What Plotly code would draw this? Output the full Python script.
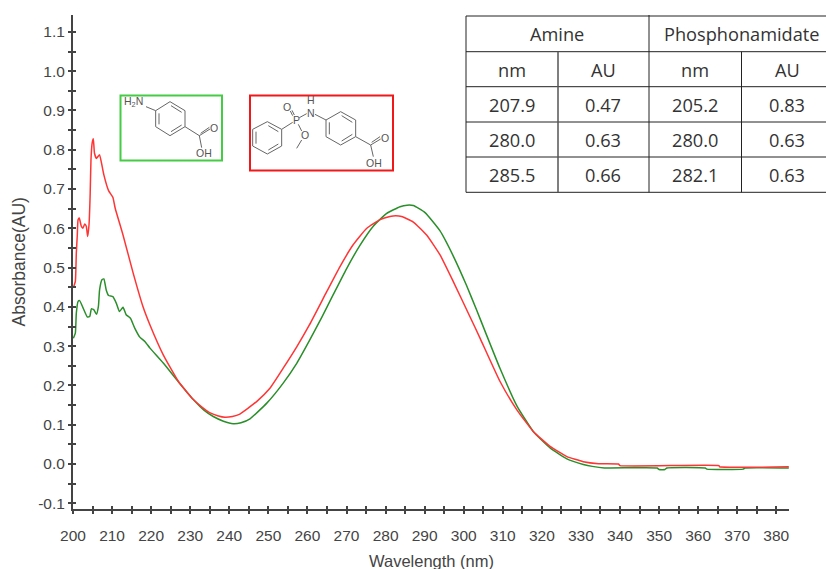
import plotly.graph_objects as go

# ---------- data ----------
wavelength_phosphonamidate = [
    200.1, 200.6, 200.85, 201.1, 201.3, 201.6, 202.1, 202.5, 203.0, 203.4, 203.75, 204.1, 204.4,
    204.6, 204.9, 205.2, 205.5, 206.0, 206.4, 206.8, 207.3, 207.9, 209.1, 210.2, 210.8, 212.8,
    215.4, 217.9, 219.7, 223.1, 227.0, 230.8, 233.0, 235.1, 237.0, 238.9, 240.8, 242.7, 247.0,
    250.4, 253.8, 257.3, 260.5, 264.9, 268.3, 271.7, 275.2, 278.6, 281.1, 282.6, 284.1,
    287.1, 290.5, 293.9, 297.3, 301.6, 304.2, 309.3, 313.6, 317.8, 322.1, 326.4, 330.6,
    334.5, 339.6, 340.0, 365.3, 365.5, 383.2]
absorbance_phosphonamidate = [
    0.449, 0.465, 0.537, 0.583, 0.622, 0.626, 0.606, 0.600, 0.611, 0.605, 0.579, 0.609, 0.689,
    0.774, 0.817, 0.828, 0.791, 0.778, 0.783, 0.787, 0.766, 0.736, 0.696, 0.679, 0.651, 0.583,
    0.486, 0.401, 0.354, 0.278, 0.210, 0.164, 0.145, 0.130, 0.123, 0.119, 0.121, 0.127, 0.159,
    0.193, 0.244, 0.299, 0.354, 0.438, 0.502, 0.558, 0.600, 0.622, 0.630, 0.632, 0.630,
    0.616, 0.583, 0.533, 0.465, 0.375, 0.320, 0.210, 0.138, 0.083, 0.045, 0.019, 0.006,
    0.001, 0.000, -0.004, -0.004, -0.007, -0.007]

wavelength_amine = [
    200.1, 200.6, 200.85, 201.3, 201.7, 202.6, 203.7, 204.3, 204.7, 205.3, 206.0, 206.5, 206.8,
    207.4, 207.9, 208.5, 209.1, 210.2, 211.1, 211.9, 212.8, 213.6, 214.7, 215.8, 217.1, 218.4,
    219.7, 223.1, 227.0, 230.8, 233.5, 235.9, 238.5, 241.0, 243.0, 245.3, 249.6, 253.8, 257.3,
    260.5, 263.7, 266.6, 270.0, 273.4, 276.9, 280.3, 283.7, 285.5, 287.1, 290.1, 293.9, 297.3,
    300.7, 303.3, 305.7, 309.3, 313.6, 317.8, 322.1, 326.4, 330.6, 332.9, 336.0, 349.5, 350.0,
    351.5, 352.0, 361.8, 362.2, 371.5, 372.0, 383.2]
absorbance_amine = [
    0.320, 0.333, 0.384, 0.414, 0.416, 0.397, 0.374, 0.376, 0.395, 0.393, 0.381, 0.401, 0.443,
    0.469, 0.471, 0.443, 0.429, 0.426, 0.409, 0.388, 0.399, 0.380, 0.371, 0.346, 0.323, 0.312,
    0.295, 0.257, 0.209, 0.164, 0.137, 0.121, 0.109, 0.1025, 0.105, 0.115, 0.155, 0.206, 0.257,
    0.314, 0.374, 0.431, 0.497, 0.556, 0.606, 0.638, 0.655, 0.659, 0.658, 0.640, 0.594, 0.530,
    0.455, 0.392, 0.332, 0.243, 0.148, 0.083, 0.041, 0.013, -0.001, -0.006, -0.010, -0.010,
    -0.014, -0.014, -0.010, -0.010, -0.013, -0.013, -0.010, -0.010]

y_tick_values = [-0.1, 0.0, 0.1, 0.2, 0.3, 0.4, 0.5, 0.6, 0.7, 0.8, 0.9, 1.0, 1.1]
y_tick_labels = ["-0.1", "0.0", "0.1", "0.2", "0.3", "0.4", "0.5", "0.6", "0.7", "0.8", "0.9", "1.0", "1.1"]

table_groups = ["Amine", "Phosphonamidate"]
table_subheads = ["nm", "AU", "nm", "AU"]
table_rows = [
    ["207.9", "0.47", "205.2", "0.83"],
    ["280.0", "0.63", "280.0", "0.63"],
    ["285.5", "0.66", "282.1", "0.63"],
]

# ---------- layout constants ----------
W, H = 826, 569
L, R, T, B = 73, 789, 15, 509
X_RANGE = [200, 383.25]
Y_RANGE = [-0.1145, 1.143]
AXIS = "#444444"
TEXT = "#444444"
RED = "#ff3535"
GREEN = "#2a8f2a"


def px(x):
    return (x - L) / (R - L)


def py(y):
    return (B - y) / (B - T)


shapes, annots = [], []


def seg(x0, y0, x1, y1, color="#555555", width=1.0):
    shapes.append(dict(type="line", xref="paper", yref="paper", x0=px(x0), y0=py(y0), x1=px(x1), y1=py(y1),
                       line=dict(color=color, width=width), layer="above"))


def text(x, y, s, size, color=TEXT, family="Liberation Sans", angle=0):
    annots.append(dict(xref="paper", yref="paper", x=px(x), y=py(y), text=s, showarrow=False, textangle=angle,
                       xanchor="center", yanchor="middle", font=dict(family=family, size=size, color=color)))


# ---------- table ----------
ty = [16, 51.7, 86.7, 122, 157, 192.3]
for y in ty:
    seg(466, y, 826, y, "#222222", 1)
seg(466, ty[0], 466, ty[5], "#222222", 1)
seg(649, ty[0] - 1, 649, ty[5], "#222222", 1)
seg(558, ty[1], 558, ty[5], "#555555", 1.5)
seg(741.5, ty[1], 741.5, ty[5], "#222222", 1)
TF = "Open Sans"
TS = 18.2
text(557, 34, table_groups[0], TS, "#333333", TF)
text(741.5, 34, table_groups[1], TS, "#333333", TF)
col_x = [512, 603, 695, 787]
for c, s in zip(col_x, table_subheads):
    text(c, 70, s, TS, "#333333", TF)
for r, row in enumerate(table_rows):
    for c, s in zip(col_x, row):
        text(c, 105 + 35 * r, s, TS, "#333333", TF)

# ---------- structure boxes ----------
shapes.append(dict(type="rect", xref="paper", yref="paper", x0=px(120.5), x1=px(222), y0=py(95.5), y1=py(160.5),
                   line=dict(color="#44cc44", width=2), layer="above"))
shapes.append(dict(type="rect", xref="paper", yref="paper", x0=px(250), x1=px(393), y0=py(95.5), y1=py(170.5),
                   line=dict(color="#f01818", width=2), layer="above"))


def zseg(a, b, c, d):
    seg(110 + a / 3, 85 + b / 3, 110 + c / 3, 85 + d / 3, "#666666", 1)


def ring(cx, top, bot, lft, rgt, mid1, mid2):
    pts = [(cx, top), (rgt, mid1), (rgt, mid2), (cx, bot), (lft, mid2), (lft, mid1), (cx, top)]
    for p, q in zip(pts, pts[1:]):
        zseg(p[0], p[1], q[0], q[1])


MS = 10.5
MC = "#555555"
# amine
ring(180, 50, 152, 137, 225, 77, 125)
zseg(147, 85, 147, 118); zseg(183, 62, 215, 82); zseg(183, 140, 215, 120)
zseg(108, 65, 137, 77)
zseg(225, 125, 268, 152); zseg(268, 152, 300, 132); zseg(272, 145, 298, 127); zseg(268, 152, 275, 188)
text(110 + 70 / 3, 85 + 50 / 3, "H<sub>2</sub>N", MS, MC)
text(110 + 313 / 3, 85 + 128 / 3, "O", MS, MC)
text(110 + 282 / 3, 85 + 205 / 3, "OH", MS, MC)

# phosphonamidate
ring(472, 110, 207, 428, 515, 133, 183)
zseg(438, 140, 438, 176); zseg(475, 122, 505, 140); zseg(475, 195, 505, 177)
zseg(515, 133, 548, 112)
zseg(548, 92, 541, 78); zseg(553, 90, 546, 76)
zseg(568, 98, 590, 86); zseg(615, 88, 648, 105)
ring(692, 80, 180, 648, 737, 105, 155)
zseg(658, 112, 658, 148); zseg(695, 92, 727, 112); zseg(695, 168, 727, 148)
zseg(737, 155, 782, 180); zseg(782, 180, 812, 162); zseg(785, 172, 810, 155); zseg(782, 180, 790, 215)
zseg(565, 118, 575, 138); zseg(575, 165, 560, 190)
text(110 + 558 / 3, 85 + 105 / 3, "P", MS, MC)
text(110 + 532 / 3, 85 + 65 / 3, "O", MS, MC)
text(110 + 602 / 3, 85 + 84 / 3, "N", MS, MC)
text(110 + 602 / 3, 85 + 45 / 3, "H", MS, MC)
text(110 + 585 / 3, 85 + 150 / 3, "O", MS, MC)
text(110 + 826 / 3, 85 + 158 / 3, "O", MS, MC)
text(110 + 793 / 3, 85 + 235 / 3, "OH", MS, MC)

# ---------- axis titles ----------
text(431, 561, "Wavelength (nm)", 16.5)
text(18, 262.5, "Absorbance(AU)", 17.5, angle=-90)

# ---------- figure ----------
fig = go.Figure()
fig.add_trace(go.Scatter(x=wavelength_amine, y=absorbance_amine, mode="lines", name="Amine",
                         line=dict(color=GREEN, width=1.5, shape="spline", smoothing=0.45)))
fig.add_trace(go.Scatter(x=wavelength_phosphonamidate, y=absorbance_phosphonamidate, mode="lines",
                         name="Phosphonamidate", xaxis="x2", yaxis="y2",
                         line=dict(color=RED, width=1.5, shape="spline", smoothing=0.45)))

tick = dict(ticklen=3, tickwidth=1.5, tickcolor=AXIS)
tfont = dict(family="Liberation Sans", size=15.5, color=TEXT)
fig.update_layout(
    width=W, height=H, autosize=False, showlegend=False,
    paper_bgcolor="white", plot_bgcolor="white",
    margin=dict(l=L, r=W - R, t=T, b=H - B, pad=0),
    xaxis=dict(range=X_RANGE, dtick=10, tick0=200, ticks="outside", **tick, showgrid=False, zeroline=False,
               showline=True, linecolor=AXIS, linewidth=2, tickfont=tfont, ticklabelstandoff=8, automargin=False,
               minor=dict(dtick=5, tick0=200, ticks="outside", ticklen=3, tickwidth=1.5, tickcolor=AXIS, showgrid=False)),
    yaxis=dict(range=Y_RANGE, tickmode="array", tickvals=y_tick_values, ticktext=y_tick_labels,
               ticks="outside", **tick, showgrid=False, zeroline=False, showline=True, linecolor=AXIS, linewidth=2,
               tickfont=tfont, automargin=False,
               minor=dict(dtick=0.05, tick0=0, ticks="outside", ticklen=3, tickwidth=1.5, tickcolor=AXIS, showgrid=False)),
    xaxis2=dict(range=X_RANGE, overlaying="x", anchor="y2", dtick=5, tick0=200, ticks="inside", **tick,
                showgrid=False, zeroline=False, showline=False, showticklabels=False),
    yaxis2=dict(range=Y_RANGE, overlaying="y", anchor="x2", dtick=0.05, tick0=0, ticks="inside", **tick,
                showgrid=False, zeroline=False, showline=False, showticklabels=False),
    shapes=shapes, annotations=annots,
)
fig.write_html("out.html", config={"displayModeBar": False},
               post_script="document.body.style.margin='0';document.body.style.overflow='hidden';")
